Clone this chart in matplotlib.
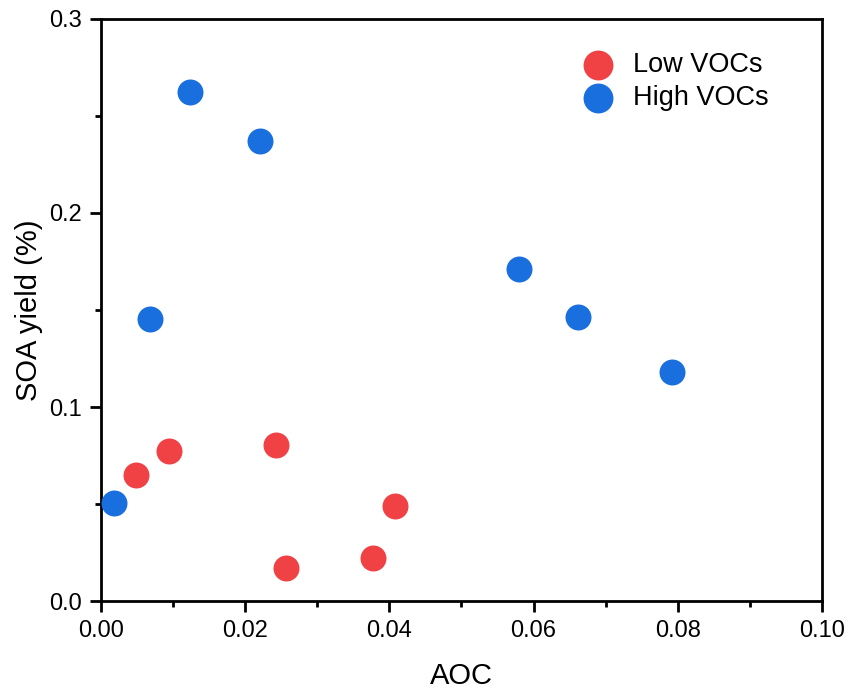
import matplotlib
matplotlib.use("Agg")
import matplotlib.pyplot as plt
from matplotlib.ticker import MultipleLocator, FormatStrFormatter

plt.rcParams['font.family'] = ['Liberation Sans', 'DejaVu Sans']

low_x = [0.00485, 0.0094, 0.0243, 0.0257, 0.0377, 0.0408]
low_y = [0.0649, 0.0773, 0.0804, 0.0170, 0.0222, 0.0490]
high_x = [0.0018, 0.0068, 0.0123, 0.0221, 0.0580, 0.0662, 0.0792]
high_y = [0.0505, 0.1454, 0.2624, 0.2371, 0.1711, 0.1464, 0.1180]

fig = plt.figure(figsize=(8.51, 6.96), dpi=100)
ax = fig.add_axes([101/851, 1-601/696, 721/851, 582/696])

ax.scatter(low_x, low_y, s=350, color='#F04245', label='Low VOCs', zorder=3, linewidths=0)
ax.scatter(high_x, high_y, s=350, color='#1A6FDF', label='High VOCs', zorder=3, linewidths=0)

ax.set_xlim(0, 0.10)
ax.set_ylim(0, 0.3)
ax.xaxis.set_major_locator(MultipleLocator(0.02))
ax.xaxis.set_minor_locator(MultipleLocator(0.01))
ax.yaxis.set_major_locator(MultipleLocator(0.1))
ax.yaxis.set_minor_locator(MultipleLocator(0.05))
ax.xaxis.set_major_formatter(FormatStrFormatter('%.2f'))
ax.yaxis.set_major_formatter(FormatStrFormatter('%.1f'))
ax.tick_params(which='major', direction='out', length=8, width=2, labelsize=17, pad=6)
ax.tick_params(which='minor', direction='out', length=4.5, width=2)
for sp in ax.spines.values():
    sp.set_linewidth(2)

ax.set_xlabel('AOC', fontsize=21, labelpad=14)
ax.set_ylabel('SOA yield (%)', fontsize=21, labelpad=4)

leg = ax.legend(loc='upper left', frameon=False, fontsize=19.5, markerscale=1.15,
                handletextpad=0.3, labelspacing=0.25, borderpad=0, borderaxespad=0,
                bbox_to_anchor=(470/721, (601-52)/582))

fig.savefig('out.png', dpi=100)
